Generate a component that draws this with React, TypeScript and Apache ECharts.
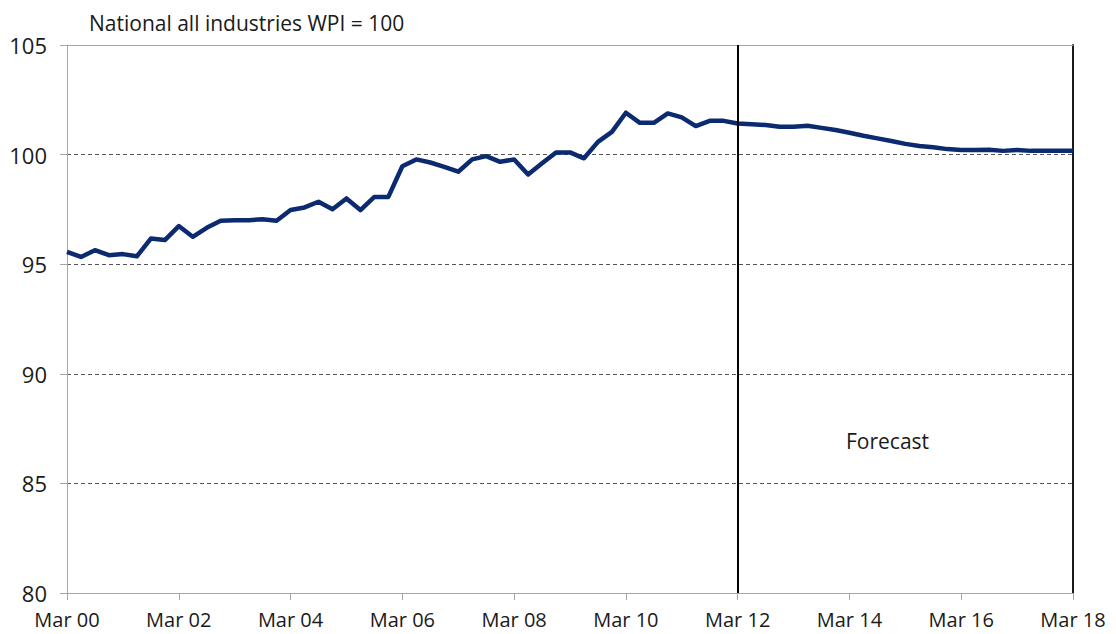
import React, { useEffect, useRef } from "react";
import * as echarts from "echarts";

const years = ["00","01","02","03","04","05","06","07","08","09","10","11","12","13","14","15","16","17","18"];
const months = ["Mar", "Jun", "Sep", "Dec"];
const categories: string[] = [];
years.forEach((y, yi) => {
  months.forEach((m, mi) => {
    if (yi === years.length - 1 && mi > 0) return;
    categories.push(`${m} ${y}`);
  });
});

const wpiValues = [
  95.56, 95.33, 95.64, 95.41, 95.46, 95.36, 96.17, 96.10, 96.74, 96.25,
  96.66, 96.98, 97.01, 97.01, 97.05, 96.98, 97.47, 97.59, 97.85, 97.51,
  98.00, 97.47, 98.07, 98.07, 99.47, 99.78, 99.64, 99.44, 99.22, 99.78,
  99.93, 99.67, 99.78, 99.09, 99.60, 100.10, 100.10, 99.83, 100.58, 101.04,
  101.91, 101.45, 101.45, 101.88, 101.70, 101.30, 101.54, 101.54, 101.42, 101.39,
  101.35, 101.27, 101.27, 101.32, 101.22, 101.12, 101.00, 100.86, 100.74, 100.62,
  100.49, 100.39, 100.34, 100.25, 100.21, 100.21, 100.22, 100.17, 100.21, 100.17,
  100.17, 100.17, 100.17,
];

const forecastStart = "Mar 12";
const titleText = "National all industries WPI = 100";
const forecastText = "Forecast";
const yMin = 80;
const yMax = 105;
const yStep = 5;

const FONT = "'Open Sans', sans-serif";

export default function App() {
  const ref = useRef<HTMLDivElement>(null);
  useEffect(() => {
    document.body.style.margin = "0";
    const chart = echarts.init(ref.current!, null, { renderer: "svg" });
    chart.setOption({
      animation: false,
      backgroundColor: "#ffffff",
      textStyle: { fontFamily: FONT },
      title: {
        text: titleText,
        left: 84,
        top: 7,
        textStyle: { fontFamily: FONT, fontSize: 21, fontWeight: "normal", color: "#1a1a1a" },
      },
      grid: { left: 67, right: 43, top: 45, bottom: 41, containLabel: false },
      xAxis: [
        {
          type: "category",
          data: categories,
          boundaryGap: false,
          axisLine: { lineStyle: { color: "#a6a6a6", width: 1 } },
          axisTick: { interval: 7, length: 7, lineStyle: { color: "#a6a6a6" } },
          axisLabel: { interval: 7, margin: 16, fontSize: 20, color: "#1a1a1a", fontFamily: FONT },
          splitLine: { show: false },
        },
        {
          type: "category",
          data: categories,
          boundaryGap: false,
          position: "top",
          axisLine: { lineStyle: { color: "#a6a6a6", width: 1 } },
          axisTick: { show: false },
          axisLabel: { show: false },
        },
      ],
      yAxis: [
        {
          type: "value",
          min: yMin,
          max: yMax,
          interval: yStep,
          axisLine: { show: true, lineStyle: { color: "#a6a6a6" } },
          axisTick: { show: true, length: 7, lineStyle: { color: "#a6a6a6" } },
          axisLabel: { margin: 20, fontSize: 22, color: "#1a1a1a", fontFamily: FONT },
          splitLine: { show: true, lineStyle: { type: [4, 3], color: "#555555", width: 1 } },
        },
        {
          type: "value",
          min: yMin,
          max: yMax,
          interval: yStep,
          position: "right",
          axisLine: { show: true, lineStyle: { color: "#1a1a1a", width: 2 } },
          axisTick: { show: false },
          axisLabel: { show: false },
          splitLine: { show: false },
        },
      ],
      series: [
        {
          type: "line",
          data: wpiValues,
          symbol: "none",
          lineStyle: { color: "#0b2a6f", width: 4.5, join: "round" },
          markLine: {
            silent: true,
            symbol: "none",
            label: { show: false },
            lineStyle: { color: "#000000", width: 2, type: "solid" },
            data: [{ xAxis: forecastStart }],
          },
          z: 3,
        },
      ],
      graphic: [
        {
          type: "text",
          left: 846,
          top: 430,
          style: { text: forecastText, font: `21px ${FONT}`, fill: "#1a1a1a" },
        },
      ],
    });
    return () => chart.dispose();
  }, []);
  return <div ref={ref} style={{ width: 1116, height: 634 }} />;
}
